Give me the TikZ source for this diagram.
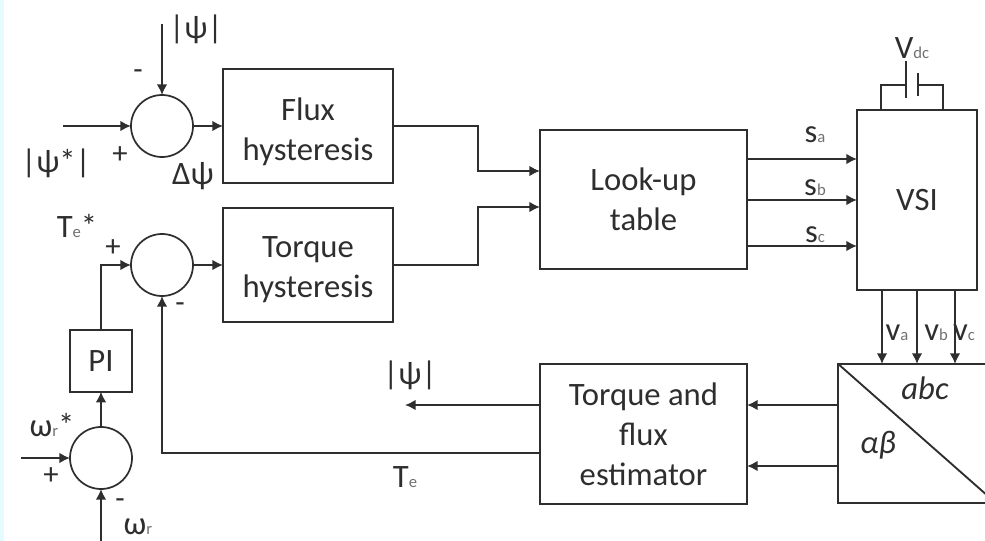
\documentclass[tikz,border=0pt]{standalone}
\usepackage{fontspec}
\setmainfont{Carlito}
\usetikzlibrary{arrows.meta}
\definecolor{inkgray}{HTML}{2E2E2E}
\definecolor{subgray}{HTML}{707070}
\definecolor{stripcol}{HTML}{E4FBFF}
\newcommand{\lowtxt}[1]{{\fontsize{12.5}{12.5}\selectfont\textcolor{subgray}{#1}}}
\tikzset{
  blockbox/.style={draw=inkgray,line width=1.6pt,inner sep=0pt,outer sep=0pt,align=center,text=inkgray,font=\fontsize{24.5}{30}\selectfont},
  sumcirc/.style={draw=inkgray,line width=1.3pt,circle,inner sep=0pt,outer sep=0pt,minimum size=46.5pt},
  lbl/.style={inner sep=0pt,text=inkgray,font=\fontsize{24.5}{30}\selectfont},
  sgn/.style={inner sep=0pt,text=inkgray,font=\fontsize{23}{24}\selectfont},
  wire/.style={draw=inkgray,line width=1.4pt},
  arr/.style={wire,-{Latex[length=8pt,width=8pt]}}
}
\begin{document}
\begin{tikzpicture}[x=0.75pt,y=-0.75pt]
  \useasboundingbox (0,0) rectangle (985,541);
  \clip (0,0) rectangle (985,541);
  \fill[stripcol] (0,0) rectangle (4,541);
  % sumadores
  \node[sumcirc] (sumflux) at (162,126) {};
  \node[sumcirc] (sumtorque) at (162,265) {};
  \node[sumcirc] (sumspeed) at (101,458) {};
  % bloques
  \node[blockbox,minimum width=127.5pt,minimum height=85.5pt] (fluxhyst) at (308,126) {\rule{0pt}{25pt}Flux\\hysteresis};
  \node[blockbox,minimum width=127.5pt,minimum height=85.5pt] (torquehyst) at (308,265) {\rule{0pt}{22pt}Torque\\hysteresis};
  \node[blockbox,minimum width=155pt,minimum height=104pt] (lookup) at (643.5,199.5) {Look-up\\table};
  \node[blockbox,minimum width=90pt,minimum height=135pt] (vsi) at (917,200) {VSI};
  \node[blockbox,minimum width=155pt,minimum height=105pt] (estim) at (643.5,434) {Torque and\\flux\\estimator};
  \node[blockbox,minimum width=46pt,minimum height=46pt] (pi) at (101,361) {PI};
  \node[blockbox,minimum width=118.5pt,minimum height=104.5pt] (transf) at (917,433.5) {};
  \draw[wire] (transf.north west)--(transf.south east);
  % extremos libres
  \coordinate (psitop) at (162,24);
  \coordinate (psiref) at (63,126);
  \coordinate (speedref) at (21,458);
  \coordinate (speedin) at (101,541);
  \coordinate (psiout) at (405,405);
  \coordinate (lookupa) at (540,171);
  \coordinate (lookupb) at (540,207);
  \coordinate (elbow) at (478,126);
  % entradas
  \draw[arr] (psitop)--(sumflux.north);
  \draw[arr] (psiref)--(sumflux.west);
  \draw[arr] (sumflux.east)--(sumflux.east-|fluxhyst.west);
  \draw[arr] (sumtorque.east)--(sumtorque.east-|torquehyst.west);
  \draw[arr] (pi.north)|-(sumtorque.west);
  \draw[arr] (sumspeed.north)--(pi.south);
  \draw[arr] (speedref)--(sumspeed.west);
  \draw[arr] (speedin)--(sumspeed.south);
  % hacia la tabla
  \draw[arr] (fluxhyst.east)--(elbow)|-(lookupa);
  \draw[arr] (torquehyst.east)-|(elbow|-lookupb)--(lookupb);
  % conmutacion
  \draw[arr] (747,159)--(857,159);
  \draw[arr] (747,200)--(857,200);
  \draw[arr] (747,246)--(857,246);
  % tensiones
  \draw[arr] (882,290)--(882,364);
  \draw[arr] (917,290)--(917,364);
  \draw[arr] (955,290)--(955,364);
  % transformacion y estimador
  \draw[arr] (838,405)--(747,405);
  \draw[arr] (838,466)--(747,466);
  \draw[arr] (540,405)--(psiout);
  \draw[arr] (540,453)-|(sumtorque.south);
  % condensador
  \draw[wire] (881,110)--(881,85)--(906,85);
  \draw[wire] (943,110)--(943,85)--(918,85);
  \draw[wire] (906,61)--(906,98);
  \draw[wire] (918,73)--(918,96);
  % textos
  \node[lbl] (psifb) at (196,29) {|ψ|};
  \node[lbl] (psistar) at (56,163) {|ψ*|};
  \node[lbl] (dpsi) at (193,176) {Δψ};
  \node[sgn] (minusa) at (138,75) {-};
  \node[sgn] (plusa) at (120,155) {+};
  \node[lbl] (teref) at (77,226) {T\lowtxt{e}*};
  \node[sgn] (plusb) at (113,248) {+};
  \node[sgn] (minusb) at (180,308) {-};
  \node[lbl] (wref) at (52,425) {ω\lowtxt{r}*};
  \node[sgn] (plusc) at (51,476) {+};
  \node[sgn] (minusc) at (120,504) {-};
  \node[lbl] (wfb) at (138,527) {ω\lowtxt{r}};
  \node[lbl] (psiest) at (410,375) {|ψ|};
  \node[lbl] (teest) at (405,477) {T\lowtxt{e}};
  \node[lbl] (sa) at (815,135) {s\lowtxt{a}};
  \node[lbl] (sb) at (815,188) {s\lowtxt{b}};
  \node[lbl] (sc) at (815,235) {s\lowtxt{c}};
  \node[lbl] (va) at (897,333) {v\lowtxt{a}};
  \node[lbl] (vb) at (936,333) {v\lowtxt{b}};
  \node[lbl] (vc) at (964,333) {v\lowtxt{c}};
  \node[lbl] (vdc) at (912,48) {V\lowtxt{dc}};
  \node[lbl] (abc) at (925,388) {\itshape abc};
  \node[lbl] (ab) at (878,445) {\itshape αβ};
\end{tikzpicture}
\end{document}
